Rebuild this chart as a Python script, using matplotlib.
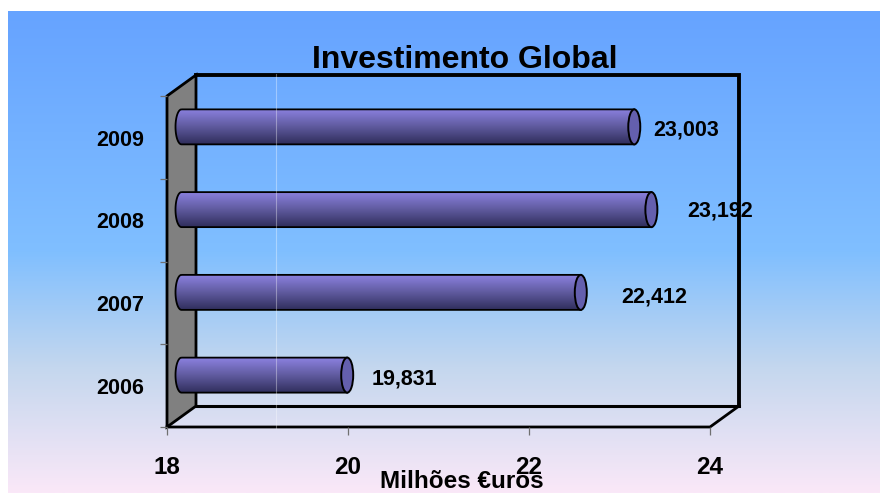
import numpy as np
import matplotlib
matplotlib.use("Agg")
import matplotlib.pyplot as plt
from matplotlib.colors import LinearSegmentedColormap
from matplotlib.lines import Line2D
from matplotlib.patches import Ellipse, Polygon, PathPatch
from matplotlib.path import Path
from matplotlib.transforms import ScaledTranslation

years = ["2006", "2007", "2008", "2009"]
values = [19.831, 22.412, 23.192, 23.003]
x_ticks = [18, 20, 22, 24]
label_gap = [18, 34, 30, 13]
label_rise = [-2, -3, 0, -2]

W, H = 880, 493
plt.rcParams["font.family"] = ["Liberation Sans", "DejaVu Sans"]
plt.rcParams["font.weight"] = "bold"

fig = plt.figure(figsize=(W / 100, H / 100), dpi=100, facecolor="white")

# page background
bg = fig.add_axes([8 / W, 0, (W - 8) / W, (H - 11) / H], zorder=0)
bg_cmap = LinearSegmentedColormap.from_list(
    "page", [(0, "#66A3FF"), (0.5, "#80BFFF"), (0.74, "#C4D7EE"), (1, "#FAE8F8")])
bg.imshow(np.linspace(0, 1, 256)[:, None], cmap=bg_cmap, aspect="auto")
bg.axis("off")

ax = fig.add_axes([167 / W, (H - 427) / H, 543 / W, 331 / H], zorder=1)
ax.patch.set_alpha(0)
ax.set_xlim(18, 24)
ax.set_ylim(0, 4)

# fake 3d depth, in data units
dx, dy = 29 / 90.5, 21 / 82.75
lw = 2.0
ax.add_patch(Polygon([(18, 0), (18 + dx, dy), (18 + dx, 4 + dy), (18, 4)], closed=True,
                     fc="#808080", ec="black", lw=lw, clip_on=False, zorder=1))
ax.plot([18 + dx, 24 + dx, 24 + dx], [4 + dy, 4 + dy, dy], color="black", lw=2.8,
        clip_on=False, zorder=1, solid_joinstyle="miter")
ax.plot([18 + dx, 24 + dx], [dy, dy], color="black", lw=2.2, clip_on=False, zorder=1)
ax.plot([18, 24, 24 + dx], [0, 0, dy], color="black", lw=2.0, clip_on=False, zorder=1)

# cylinders
bar_cmap = LinearSegmentedColormap.from_list("bar", ["#8A80DE", "#5F5A9E", "#302E5C"])
half_h = 17.5 / 82.75
cap_w = 6 / 90.5
shift_x, shift_y = dx / 2, dy / 2
for i, v in enumerate(values):
    y = i + 0.5 + shift_y
    x0, x1 = 18 + shift_x, v + shift_x
    t = np.linspace(np.pi / 2, 3 * np.pi / 2, 30)
    verts = list(zip(x0 + cap_w * np.cos(t), y + half_h * np.sin(t)))
    verts += [(x1, y - half_h), (x1, y + half_h), (x0, y + half_h)]
    path = Path(verts + [verts[0]], closed=False)
    outline = PathPatch(path, fc="none", ec="black", lw=1.3, clip_on=False, zorder=3)
    ax.add_patch(outline)
    im = ax.imshow(np.linspace(0, 1, 64)[:, None], cmap=bar_cmap, aspect="auto",
                   extent=(x0 - cap_w, x1, y - half_h, y + half_h), zorder=2)
    im.set_clip_path(PathPatch(path, transform=ax.transData))
    ax.add_patch(Ellipse((x1, y), 2 * cap_w, 2 * half_h, fc="#645FAE", ec="black",
                         lw=1.4, clip_on=False, zorder=4))
    ax.annotate(f"{v:.3f}".replace(".", ","), xy=(x1 + cap_w, y),
                xytext=(label_gap[i] * 0.72, label_rise[i] * 0.72 - 1),
                textcoords="offset points", ha="left", va="center", fontsize=15.5,
                fontweight="bold", color="black", zorder=6, annotation_clip=False)
ax.set_xlim(18, 24)
ax.set_ylim(0, 4)

for side in ax.spines.values():
    side.set_visible(False)
ax.set_xticks(x_ticks)
ax.set_xticklabels([str(t) for t in x_ticks], fontsize=17.5, fontweight="bold")
ax.set_yticks(range(5))
ax.set_yticklabels([])
ax.set_yticks([i + 0.5 for i in range(4)], minor=True)
ax.set_yticklabels(years, minor=True, fontsize=15.5, fontweight="bold", va="top")
ax.tick_params(axis="x", length=5.8, width=0.9, color="#707070", pad=15)
ax.tick_params(axis="y", which="major", length=5, width=0.9, color="#707070")
ax.tick_params(axis="y", which="minor", length=0, pad=16.5)
for lab in ax.get_yticklabels(minor=True):
    lab.set_verticalalignment("center")
    lab.set_transform(lab.get_transform() + ScaledTranslation(0, -2 / 72, fig.dpi_scale_trans))

# pale seam running through the plot
fig.add_artist(Line2D([275.5 / W, 275.5 / W], [(H - 428) / H, (H - 74) / H], color="white",
                      lw=0.8, alpha=0.35, zorder=5))

fig.text(465 / W, (H - 60) / H, "Investimento Global", ha="center", va="center",
         fontsize=23, fontweight="bold", color="black", zorder=6)
fig.text(462 / W, (H - 482) / H, "Milhões €uros", ha="center", va="center",
         fontsize=17.5, fontweight="bold", color="black", zorder=6)

fig.savefig("out.png", dpi=100)
plt.close(fig)
